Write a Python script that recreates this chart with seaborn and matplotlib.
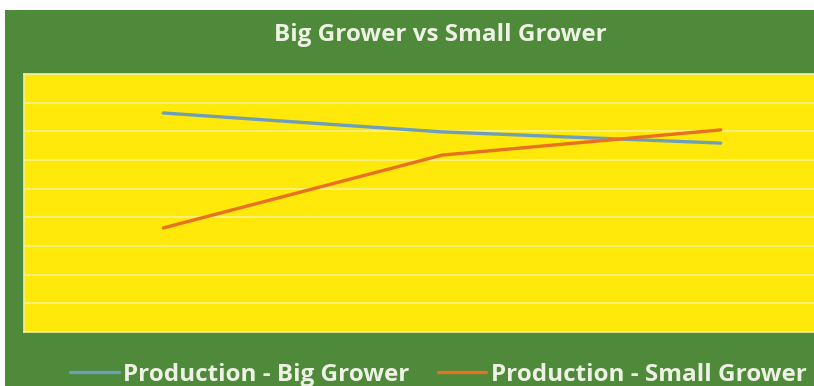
import pandas as pd
import matplotlib
matplotlib.use('Agg')
import matplotlib.pyplot as plt
import seaborn as sns
from matplotlib.patches import Rectangle

# data (no axis labels shown, arbitrary units)
periods = ['Period 1', 'Period 2', 'Period 3']
big_grower = [764, 698, 659]
small_grower = [363, 617, 705]
series_names = ['Production - Big Grower', 'Production - Small Grower']

GREEN = '#4e8a3a'
YELLOW = '#ffe90a'
GRID = '#fcf07c'
TEXT = '#eef2e4'


def main():
    sns.set_style('white')
    plt.rcParams['font.family'] = ['Open Sans', 'DejaVu Sans']

    df = pd.DataFrame({
        'period': periods * 2,
        'value': big_grower + small_grower,
        'series': [series_names[0]] * 3 + [series_names[1]] * 3,
    })

    fig = plt.figure(figsize=(8.14, 3.86), dpi=100)
    fig.patch.set_facecolor('white')
    # green chart area (white margin on top/left like the screenshot)
    bg = Rectangle((5 / 814, 0), 1, (386 - 10) / 386,
                   transform=fig.transFigure, facecolor=GREEN,
                   edgecolor='none', zorder=-5)
    fig.patches.append(bg)

    # plot area runs past the right edge of the crop
    ax = fig.add_axes([24 / 814, 54 / 386, 836 / 814, 258 / 386])
    ax.set_zorder(1)
    ax.set_facecolor(YELLOW)

    sns.lineplot(data=df, x='period', y='value', hue='series',
                 palette=['#6f9fb8', '#e8701e'], linewidth=2.4,
                 sort=False, ax=ax, legend=False)

    ax.set_xlim(-0.5, 2.5)
    ax.set_ylim(0, 900)
    ax.set_yticks(range(0, 901, 100))
    ax.yaxis.grid(True, color=GRID, linewidth=1.4)
    ax.set_axisbelow(True)
    ax.tick_params(left=False, bottom=False, labelleft=False, labelbottom=False)
    ax.set_xlabel('')
    ax.set_ylabel('')
    for s in ax.spines.values():
        s.set_color('#f4ef9a')
        s.set_linewidth(1.2)

    fig.text(440 / 814, 1 - 35 / 386, 'Big Grower vs Small Grower',
             ha='center', va='center', fontsize=17.5, fontweight='bold', color=TEXT)

    handles = ax.get_lines()[:2]
    leg = fig.legend(handles, series_names, loc='center left',
                     bbox_to_anchor=(70 / 814, 1 - 375 / 386), ncol=2, frameon=False,
                     labelcolor=TEXT, handlelength=2.0, handletextpad=0.2,
                     columnspacing=1.15, borderpad=0, borderaxespad=0,
                     prop={'weight': 'bold', 'size': 17.5})
    leg.set_zorder(2)

    fig.savefig('out.png', dpi=100, facecolor=fig.get_facecolor())
    plt.close(fig)


if __name__ == '__main__':
    main()
